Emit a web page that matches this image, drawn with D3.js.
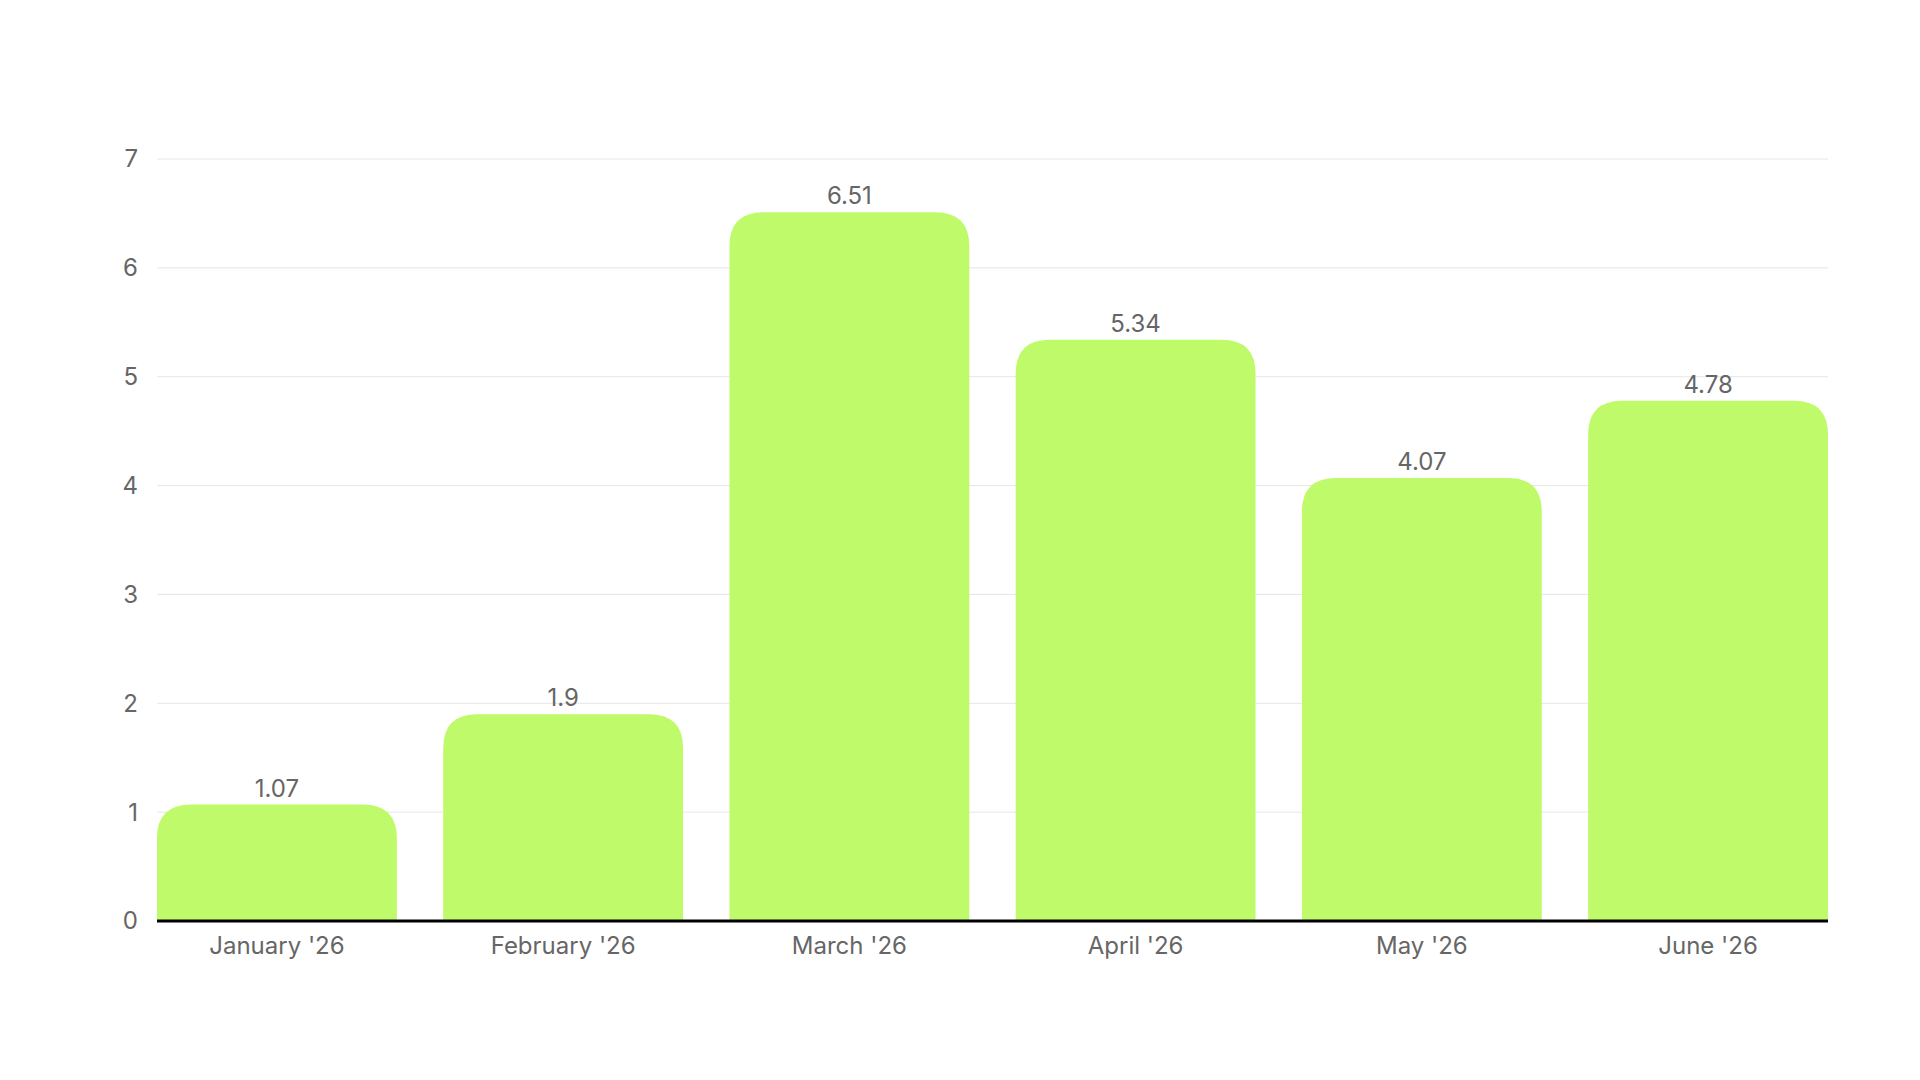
<!DOCTYPE html>
<html><head><meta charset="utf-8">
<script src="https://cdn.jsdelivr.net/npm/d3@7"></script>
<style>body{margin:0;background:#fff}text{font-family:Inter,sans-serif}</style>
</head><body><svg width="1920" height="1080"></svg>
<script>
const months = ["January '26", "February '26", "March '26", "April '26", "May '26", "June '26"];
const values = [1.07, 1.9, 6.51, 5.34, 4.07, 4.78];
const yTicks = [0, 1, 2, 3, 4, 5, 6, 7];

const svg = d3.select("svg"),
  plotLeft = 157, plotRight = 1828, plotTop = 159, plotBottom = 921;

const x = d3.scaleBand().domain(months).range([plotLeft, plotRight]).paddingInner(0.162).paddingOuter(0);
const y = d3.scaleLinear().domain([0, 7]).range([plotBottom, plotTop]);

// grid
svg.append("g").selectAll("line").data(yTicks.slice(1)).enter().append("line")
  .attr("x1", plotLeft).attr("x2", plotRight)
  .attr("y1", d => y(d)).attr("y2", d => y(d))
  .attr("stroke", "#e6e6e6").attr("stroke-width", 1);

svg.append("g").selectAll("text").data(yTicks).enter().append("text")
  .attr("x", 138).attr("y", d => y(d)).attr("dy", "0.35em")
  .attr("text-anchor", "end").attr("font-size", 24).attr("fill", "#666")
  .text(d => d);

const r = 34;
function barPath(d, i) {
  const x0 = x(months[i]), w = x.bandwidth(), y0 = y(d), h = plotBottom - y0;
  const rr = Math.min(r, h, w / 2);
  return `M${x0},${plotBottom}V${y0 + rr}Q${x0},${y0} ${x0 + rr},${y0}H${x0 + w - rr}Q${x0 + w},${y0} ${x0 + w},${y0 + rr}V${plotBottom}Z`;
}
svg.append("g").selectAll("path").data(values).enter().append("path")
  .attr("d", barPath).attr("fill", "#bffa6a");

svg.append("g").selectAll("text").data(values).enter().append("text")
  .attr("x", (d, i) => x(months[i]) + x.bandwidth() / 2)
  .attr("y", d => y(d) - 8)
  .attr("text-anchor", "middle").attr("font-size", 24).attr("fill", "#666")
  .text(d => d);

svg.append("line").attr("x1", plotLeft).attr("x2", plotRight).attr("y1", plotBottom).attr("y2", plotBottom)
  .attr("stroke", "#000").attr("stroke-width", 3);

svg.append("g").selectAll("text").data(months).enter().append("text")
  .attr("x", d => x(d) + x.bandwidth() / 2).attr("y", plotBottom + 33)
  .attr("text-anchor", "middle").attr("font-size", 24).attr("fill", "#666")
  .text(d => d);
</script></body></html>
